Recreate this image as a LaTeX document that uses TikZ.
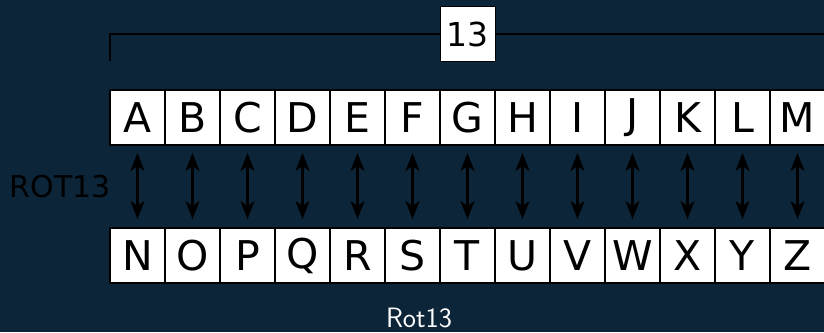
\documentclass[tikz,border=0pt]{standalone}
\usepackage{fontspec}
\newfontfamily\dejavu{DejaVu Sans}
\usepackage{tikz}
\usetikzlibrary{arrows.meta,positioning,calc}
\definecolor{bgnavy}{RGB}{12,37,56}

\begin{document}
\begin{tikzpicture}[
        letter/.style={draw, rectangle, fill=white, line width=2pt, minimum size=55pt, inner sep=0pt, outer sep=0pt, font=\dejavu\fontsize{41}{41}\selectfont},
        countbox/.style={draw, rectangle, fill=white, line width=0.6pt, minimum size=55pt, inner sep=0pt, font=\dejavu\fontsize{33}{33}\selectfont},
        arrow/.style={{Stealth[length=18pt,width=14pt,inset=5pt]}-{Stealth[length=18pt,width=14pt,inset=5pt]}, line width=2.4pt, shorten <=8pt, shorten >=9pt},
        bracket/.style={line width=2.4pt}
    ]
        % Hintergrund
        \fill[bgnavy] (0,0) rectangle (824pt,332pt);
        \useasboundingbox (0,0) rectangle (824pt,332pt);
        \clip (0,0) rectangle (824pt,332pt);

        % Klartext A-M
        \node[letter] (t1) at (137.5pt,214.5pt) {A};
        \foreach \ch [count=\i from 2, remember=\i as \j (initially 1)] in {B,...,M}
            \node[letter, right=0pt of t\j] (t\i) {\ch};

        % Geheimtext N-Z
        \foreach \ch [count=\i] in {N,...,Z}
            \node[letter, below=83pt of t\i] (b\i) {\ch};

        % Vertauschung
        \foreach \i in {1,...,13}
            \draw[arrow] (t\i) -- (b\i);

        \node[anchor=east, inner sep=0pt, font=\dejavu\fontsize{30}{30}\selectfont, text=black] (rotlbl)
            at ($(t1.south west)!0.5!(b1.north west) + (1pt,0)$) {ROT13};

        % Verschiebung um 13
        \node[countbox] (num) at ($(t1.north west)!0.5!(t13.north east) + (0,56pt)$) {13};
        \draw[bracket] ([yshift=29pt]t1.north west) |- (num) -| ([yshift=29pt]t13.north east);

        % Bildunterschrift
        \node[text=white, font=\sffamily\fontsize{28}{28}\selectfont] (caption) at (419pt,14pt) {Rot13};
    \end{tikzpicture}
\end{document}
